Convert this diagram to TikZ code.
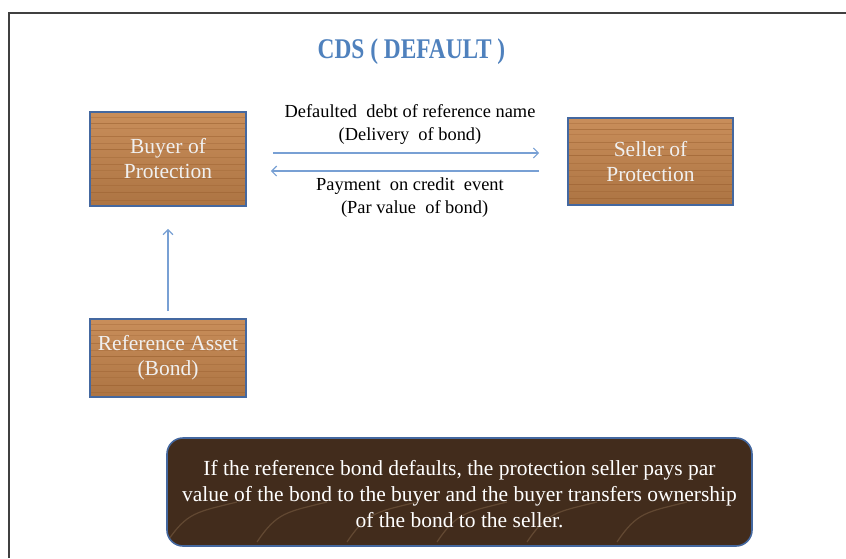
\documentclass[tikz,border=0pt]{standalone}
\usepackage{fontspec}
\setmainfont{Liberation Serif}
\usetikzlibrary{arrows.meta, positioning}
\definecolor{woodcolor}{RGB}{196,132,76}
\definecolor{woodgrain}{RGB}{150,92,44}
\definecolor{darkwood}{RGB}{66,44,28}
\definecolor{darkgrain}{RGB}{120,92,66}
\definecolor{boxborder}{RGB}{68,104,160}
\definecolor{flowcolor}{RGB}{120,160,212}
\definecolor{titlecolor}{RGB}{79,129,189}

\tikzset{
    woodbox/.style={draw=boxborder, line width=1.6pt,
        top color=woodcolor!92!white, bottom color=woodcolor!88!black,
        text=white!94!black, align=center, font=\fontsize{21.5}{25}\selectfont,
        path picture={
            \foreach \k/\o in {5/.3,11/.5,16/.25,24/.45,31/.3,37/.55,45/.3,52/.4,58/.25,66/.5,73/.3,80/.45,88/.35}
                \draw[woodgrain, opacity=\o, line width=.7pt]
                    ([yshift=-\k pt]path picture bounding box.north west) -- ++(200pt,0);
        }},
    notebox/.style={draw=boxborder, line width=1.6pt, rounded corners=16pt,
        fill=darkwood, text=white, align=center,
        font=\fontsize{21.5}{26}\selectfont,
        path picture={
            \foreach \k in {0,90,180,270,360,450}
                \draw[darkgrain, opacity=.6, line width=1.2pt]
                    ([xshift=\k pt, yshift=4pt]path picture bounding box.south west)
                    .. controls +(20pt,30pt) and +(-40pt,-10pt) .. ++(70pt,40pt);
        }},
    flow/.style={flowcolor, line width=1.2pt, -{Straight Barb[length=5pt,width=10pt]}},
    flowlabel/.style={align=center, font=\fontsize{18.4}{23}\selectfont}
}

\begin{document}
\begin{tikzpicture}[x=1pt, y=-1pt]
    \useasboundingbox (0,0) rectangle (846,558);
    % page frame
    \draw[black!75, line width=1.3pt] (9,558) -- (9,13) -- (846,13);

    \node[font=\bfseries\fontsize{28.5}{30}\selectfont, text=titlecolor] (title) at (411.5,52)
        {\scalebox{0.82}[1]{CDS ( DEFAULT )}};

    \node[woodbox, minimum width=156pt, minimum height=94pt] (buyer) at (168,159) {Buyer of\\Protection};
    \node[woodbox, minimum width=165pt, minimum height=87pt] (seller) at (650.5,161.5) {Seller of\\Protection};
    \node[woodbox, minimum width=156pt, minimum height=78pt] (asset) at (168,358) {Reference Asset\\(Bond)};

    \node[notebox, minimum width=585pt, minimum height=108pt] (note) at (459.5,492) {};
    \node[text=white, align=center, font=\fontsize{21.5}{26}\selectfont] (notetext) at (459.5,494)
        {If the reference bond defaults, the protection seller pays par\\
         value of the bond to the buyer and the buyer transfers ownership\\
         of the bond to the seller.};

    % flows between buyer and seller
    \draw[flow] ([shift={(26pt,6pt)}]buyer.east) -- ([shift={(-28pt,6pt)}]buyer.east -| seller.west);
    \draw[flow] ([shift={(-28pt,-12pt)}]buyer.east -| seller.west) -- ([shift={(24pt,-12pt)}]buyer.east);
    \draw[flow] ([yshift=7pt]asset.north) -- ([yshift=-22pt]buyer.south);

    \node[flowlabel] (deliver) at (410,125) {Defaulted\ \ debt of reference name\\(Delivery\ \ of bond)};
    \node[flowlabel] (payment) at (410,197.5) {Payment\ \ on credit\ \ event\\\ \ (Par value\ \ of bond)};
\end{tikzpicture}
\end{document}
